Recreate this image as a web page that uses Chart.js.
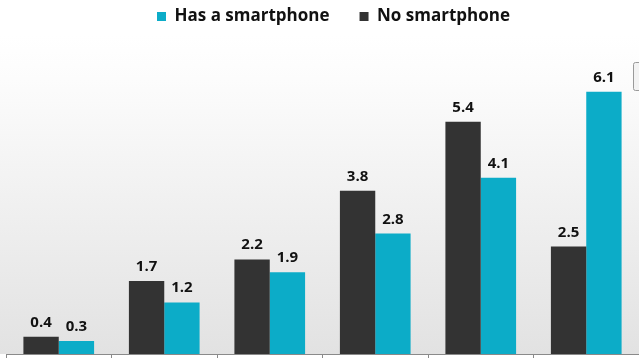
<!DOCTYPE html>
<html>
<head>
<meta charset="utf-8">
<script src="https://cdn.jsdelivr.net/npm/chart.js@4/dist/chart.umd.min.js"></script>
<style>
  html, body { margin: 0; padding: 0; background: #fff; }
  #wrap { width: 639px; height: 358px; }
</style>
</head>
<body>
<div id="wrap"><canvas id="chart" width="639" height="358"></canvas></div>
<script>
const groups = ['1', '2', '3', '4', '5', '6'];
const noSmartphone = [0.4, 1.7, 2.2, 3.8, 5.4, 2.5];
const hasSmartphone = [0.3, 1.2, 1.9, 2.8, 4.1, 6.1];

const DARK = '#333333';
const CYAN = '#0cacc8';
const FONT = "'Open Sans', 'DejaVu Sans', sans-serif";

// soft grey band behind the bars
const backdrop = {
  id: 'backdrop',
  beforeDraw(chart) {
    const {ctx, chartArea, width} = chart;
    const g = ctx.createLinearGradient(0, chartArea.top, 0, chartArea.bottom);
    g.addColorStop(0, '#ffffff');
    g.addColorStop(0.14, '#fcfcfc');
    g.addColorStop(1, '#e2e2e2');
    ctx.save();
    ctx.fillStyle = g;
    ctx.fillRect(0, chartArea.top, width, chartArea.bottom - chartArea.top);
    ctx.restore();
  },
  afterDraw(chart) {
    // small framed tab on the right edge
    const ctx = chart.ctx;
    ctx.save();
    ctx.fillStyle = '#f3f3f3';
    ctx.strokeStyle = '#9a9a9a';
    ctx.lineWidth = 1;
    ctx.beginPath();
    ctx.roundRect(633.5, 62.5, 12, 28, 2);
    ctx.fill();
    ctx.stroke();
    ctx.restore();
  }
};

// value above every bar
const valueLabels = {
  id: 'valueLabels',
  afterDatasetsDraw(chart) {
    const ctx = chart.ctx;
    ctx.save();
    ctx.font = 'bold 15px ' + FONT;
    ctx.fillStyle = '#111';
    ctx.textAlign = 'center';
    ctx.textBaseline = 'alphabetic';
    chart.data.datasets.forEach((ds, i) => {
      chart.getDatasetMeta(i).data.forEach((bar, j) => {
        ctx.fillText(ds.data[j].toFixed(1), bar.x, bar.y - 10);
      });
    });
    ctx.restore();
  }
};

// nudge the legend a bit to the right
const legendShift = {
  id: 'legendShift',
  afterLayout(chart) {
    chart.legend.left += 22;
  }
};

new Chart(document.getElementById('chart'), {
  type: 'bar',
  data: {
    labels: groups,
    datasets: [
      {label: 'No smartphone', data: noSmartphone, backgroundColor: DARK},
      {label: 'Has a smartphone', data: hasSmartphone, backgroundColor: CYAN}
    ]
  },
  options: {
    responsive: false,
    animation: false,
    layout: {padding: {top: -22, left: 6, right: 0, bottom: 0}},
    datasets: {bar: {categoryPercentage: 0.67, barPercentage: 1.0}},
    scales: {
      x: {
        grid: {display: true, drawOnChartArea: false, drawTicks: true, tickLength: 4, color: '#8a8a8a', offset: true},
        border: {display: true, color: '#8a8a8a', width: 1},
        ticks: {display: false}
      },
      y: {
        display: false,
        min: 0,
        max: 7.42
      }
    },
    plugins: {
      legend: {
        position: 'top',
        reverse: true,
        labels: {
          boxWidth: 9,
          boxHeight: 9,
          padding: 30,
          color: '#111',
          font: {family: FONT, size: 17, weight: 'bold'}
        }
      },
      tooltip: {enabled: false}
    }
  },
  plugins: [backdrop, valueLabels, legendShift]
});
</script>
</body>
</html>
